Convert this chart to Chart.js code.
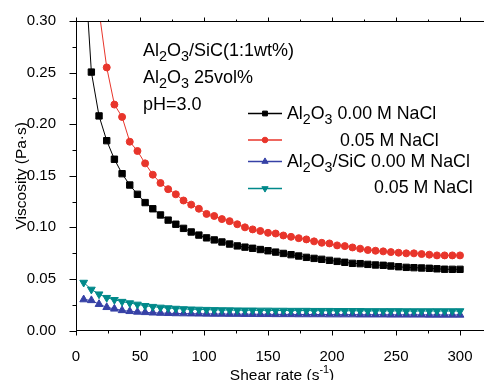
<!DOCTYPE html>
<html lang="en">
<head>
<meta charset="UTF-8">
<title>Viscosity vs shear rate</title>
<script src="https://cdn.jsdelivr.net/npm/chart.js"></script>
<style>
  html, body { margin: 0; padding: 0; background: #fff; }
  #wrap { width: 484px; height: 380px; position: relative; }
</style>
</head>
<body>
<div id="wrap"><canvas id="viscChart"></canvas></div>
<script>
// shear rate (1/s) shared by all four runs
const shearRate = [6, 12, 18, 24, 30, 36, 42, 48, 54, 60,
                   66, 72, 78, 84, 90, 96, 102, 108, 114, 120,
                   126, 132, 138, 144, 150, 156, 162, 168, 174, 180,
                   186, 192, 198, 204, 210, 216, 222, 228, 234, 240,
                   246, 252, 258, 264, 270, 276, 282, 288, 294, 300];

// viscosity (Pa.s)
const al2o3Nacl000 = [0.370, 0.2505, 0.208, 0.184, 0.166, 0.152, 0.141, 0.132, 0.124, 0.118,
                      0.112, 0.107, 0.103, 0.099, 0.0955, 0.0925, 0.0898, 0.0878, 0.0858, 0.0838,
                      0.0820, 0.0808, 0.0797, 0.0785, 0.0773, 0.0760, 0.0747, 0.0735, 0.0722, 0.0709,
                      0.0699, 0.0690, 0.0680, 0.0670, 0.0661, 0.0651, 0.0648, 0.0641, 0.0635, 0.0632,
                      0.0625, 0.0618, 0.0612, 0.0609, 0.0606, 0.0603, 0.0598, 0.0594, 0.0593, 0.0593];
const al2o3Nacl005 = [0.620, 0.420, 0.310, 0.255, 0.219, 0.207, 0.183, 0.174, 0.162, 0.151,
                      0.143, 0.137, 0.132, 0.126, 0.122, 0.118, 0.113, 0.111, 0.108, 0.106,
                      0.103, 0.100, 0.098, 0.0965, 0.0947, 0.0940, 0.0921, 0.0908, 0.0895, 0.0883,
                      0.0864, 0.0850, 0.0844, 0.0825, 0.0818, 0.0805, 0.0793, 0.0780, 0.0773, 0.0767,
                      0.0760, 0.0754, 0.0748, 0.0748, 0.0741, 0.0735, 0.0728, 0.0728, 0.0728, 0.0728];
const sicNacl000 = [0.0300, 0.0292, 0.0255, 0.0225, 0.0210, 0.0195, 0.0186, 0.0180, 0.0176, 0.0172,
                    0.0169, 0.0167, 0.0165, 0.0164, 0.0163, 0.0162, 0.0161, 0.0160, 0.0160, 0.0159,
                    0.0159, 0.0158, 0.0158, 0.0157, 0.0157, 0.0156, 0.0156, 0.0156, 0.0155, 0.0155,
                    0.0155, 0.0155, 0.0154, 0.0154, 0.0154, 0.0154, 0.0153, 0.0153, 0.0153, 0.0153,
                    0.0152, 0.0152, 0.0152, 0.0152, 0.0152, 0.0151, 0.0151, 0.0151, 0.0151, 0.0151];
const sicNacl005 = [0.0465, 0.0398, 0.0352, 0.0318, 0.0298, 0.0280, 0.0266, 0.0253, 0.0240, 0.0231,
                    0.0224, 0.0218, 0.0213, 0.0209, 0.0206, 0.0204, 0.0202, 0.0200, 0.0199, 0.0198,
                    0.0197, 0.0196, 0.0196, 0.0195, 0.0195, 0.0194, 0.0194, 0.0193, 0.0193, 0.0193,
                    0.0192, 0.0192, 0.0192, 0.0191, 0.0191, 0.0191, 0.0191, 0.0190, 0.0190, 0.0190,
                    0.0190, 0.0190, 0.0189, 0.0189, 0.0189, 0.0189, 0.0189, 0.0189, 0.0189, 0.0189];

const xTickValues = [0, 50, 100, 150, 200, 250, 300];
const xMinorValues = [25, 75, 125, 175, 225, 275];
const yTickValues = [0, 0.05, 0.10, 0.15, 0.20, 0.25, 0.30];
const yMinorValues = [0.025, 0.075, 0.125, 0.175, 0.225, 0.275];

const seriesNames = ['Al_2O_3 0.00 M NaCl', '0.05 M NaCl', 'Al_2O_3/SiC 0.00 M NaCl', '0.05 M NaCl'];
const noteLines = ['Al_2O_3/SiC(1:1wt%)', 'Al_2O_3 25vol%', 'pH=3.0'];

const FONT = '"Liberation Sans", Arial, sans-serif';
Chart.defaults.font.family = FONT;
Chart.defaults.color = '#000';

function toPoints(ys) {
    return shearRate.map((x, i) => ({ x: x, y: ys[i] }));
}

// text with _2 subscripts and ^{..} superscripts
function drawRich(ctx, text, x, y, size, align) {
    const parts = text.split(/(_\d|\^\{[^}]*\})/).filter(p => p.length);
    const segs = parts.map(p => {
        if (p[0] === '_') return { t: p.slice(1), s: size * 0.8, dy: size * 0.3 };
        if (p[0] === '^') return { t: p.slice(2, -1), s: size * 0.7, dy: -size * 0.4 };
        return { t: p, s: size, dy: 0 };
    });
    let total = 0;
    segs.forEach(sg => { ctx.font = sg.s + 'px ' + FONT; sg.w = ctx.measureText(sg.t).width; total += sg.w; });
    let cx = align === 'center' ? x - total / 2 : x;
    ctx.textAlign = 'left';
    ctx.textBaseline = 'alphabetic';
    segs.forEach(sg => {
        ctx.font = sg.s + 'px ' + FONT;
        ctx.fillText(sg.t, cx, y + sg.dy);
        cx += sg.w;
    });
}

const decorPlugin = {
    id: 'decor',
    afterDraw(chart) {
        const ctx = chart.ctx;
        const xs = chart.scales.x, ys = chart.scales.y;
        const area = chart.chartArea;
        ctx.save();
        ctx.strokeStyle = '#000';
        ctx.fillStyle = '#000';
        ctx.lineWidth = 1;

        // top frame line
        ctx.beginPath();
        ctx.moveTo(area.left, Math.round(area.top) + 0.5);
        ctx.lineTo(area.right, Math.round(area.top) + 0.5);
        ctx.stroke();

        // tick marks
        const bottom = Math.round(area.bottom) - 0.5;
        const top = Math.round(area.top) + 0.5;
        ctx.beginPath();
        xTickValues.forEach(v => {
            const px = Math.round(xs.getPixelForValue(v)) + 0.5;
            ctx.moveTo(px, bottom); ctx.lineTo(px, bottom + 5);
            ctx.moveTo(px, top); ctx.lineTo(px, top - 4);
        });
        xMinorValues.forEach(v => {
            const px = Math.round(xs.getPixelForValue(v)) + 0.5;
            ctx.moveTo(px, bottom); ctx.lineTo(px, bottom + 3);
            ctx.moveTo(px, top); ctx.lineTo(px, top - 2);
        });
        const left = Math.round(area.left) + 0.5;
        yTickValues.forEach(v => {
            const py = Math.round(ys.getPixelForValue(v)) + 0.5;
            ctx.moveTo(left, py); ctx.lineTo(left - 7, py);
        });
        yMinorValues.forEach(v => {
            const py = Math.round(ys.getPixelForValue(v)) + 0.5;
            ctx.moveTo(left, py); ctx.lineTo(left - 4, py);
        });
        ctx.stroke();

        // x title with superscript
        drawRich(ctx, 'Shear rate (s^{-1})', 282, 379.5, 15.5, 'center');

        // annotations
        const noteY = [55.5, 83, 110];
        noteLines.forEach((t, i) => drawRich(ctx, t, 143, noteY[i], 18));

        // legend
        const rowY = [113.5, 140, 161.5, 188.5];
        const textX = [287, 340, 287, 374];
        const textY = [118.5, 145.5, 166.5, 193];
        const legendRadius = [3.4, 2.8, 3.6, 3.6];
        chart.data.datasets.forEach((ds, i) => {
            ctx.strokeStyle = ds.borderColor;
            ctx.lineWidth = 1.3;
            ctx.beginPath();
            ctx.moveTo(248, rowY[i]);
            ctx.lineTo(282, rowY[i]);
            ctx.stroke();
            ctx.fillStyle = ds.pointBackgroundColor;
            ctx.strokeStyle = ds.pointBackgroundColor;
            ctx.lineWidth = 1;
            Chart.helpers.drawPoint(ctx, {
                pointStyle: ds.pointStyle,
                rotation: ds.pointRotation || 0,
                radius: legendRadius[i],
                borderWidth: 1
            }, 265, rowY[i]);
            ctx.fillStyle = '#000';
            drawRich(ctx, seriesNames[i], textX[i], textY[i], 17.8);
        });
        ctx.restore();
    }
};

const ctx = document.getElementById('viscChart').getContext('2d');
new Chart(ctx, {
    type: 'line',
    data: {
        datasets: [
            {
                label: 'Al2O3 0.00 M NaCl',
                data: toPoints(al2o3Nacl000),
                borderColor: '#000000',
                pointBackgroundColor: '#000000',
                pointBorderColor: '#000000',
                pointStyle: 'rect',
                pointRadius: 4.5,
                borderWidth: 1,
                order: 3
            },
            {
                label: 'Al2O3 0.05 M NaCl',
                data: toPoints(al2o3Nacl005),
                borderColor: '#e8352b',
                pointBackgroundColor: '#e8352b',
                pointBorderColor: '#e8352b',
                pointStyle: 'circle',
                pointRadius: 3.5,
                borderWidth: 1,
                order: 2
            },
            {
                label: 'Al2O3/SiC 0.00 M NaCl',
                data: toPoints(sicNacl000),
                borderColor: '#3641a6',
                pointBackgroundColor: '#3641a6',
                pointBorderColor: '#3641a6',
                pointStyle: 'triangle',
                pointRadius: 4.5,
                borderWidth: 1,
                order: 1
            },
            {
                label: 'Al2O3/SiC 0.05 M NaCl',
                data: toPoints(sicNacl005),
                borderColor: '#00898a',
                pointBackgroundColor: '#00898a',
                pointBorderColor: '#00898a',
                pointStyle: 'triangle',
                pointRotation: 180,
                pointRadius: 4.5,
                borderWidth: 1,
                order: 0
            }
        ]
    },
    options: {
        responsive: true,
        maintainAspectRatio: false,
        animation: false,
        events: [],
        layout: { autoPadding: false, padding: { top: 21, right: 0, bottom: 0, left: 0 } },
        plugins: {
            legend: { display: false },
            tooltip: { enabled: false }
        },
        scales: {
            x: {
                type: 'linear',
                min: 0,
                max: 318.75,
                grid: { display: false },
                border: { display: true, color: '#000', width: 1 },
                afterBuildTicks: scale => { scale.ticks = xTickValues.map(v => ({ value: v })); },
                afterFit: scale => { scale.height = 49.5; },
                ticks: {
                    font: { size: 15 },
                    color: '#000',
                    padding: 9,
                    maxRotation: 0,
                    callback: v => String(v)
                }
            },
            y: {
                min: 0,
                max: 0.3,
                grid: { display: false },
                border: { display: true, color: '#000', width: 1 },
                afterBuildTicks: scale => { scale.ticks = yTickValues.map(v => ({ value: v })); },
                afterFit: scale => { scale.width = 76; },
                ticks: {
                    font: { size: 15 },
                    color: '#000',
                    padding: 12,
                    callback: v => v.toFixed(2)
                },
                title: {
                    display: true,
                    text: 'Viscosity (Pa·s)',
                    font: { size: 15.5 },
                    color: '#000',
                    padding: { top: 12, bottom: 0 }
                }
            }
        }
    },
    plugins: [decorPlugin]
});
</script>
</body>
</html>
